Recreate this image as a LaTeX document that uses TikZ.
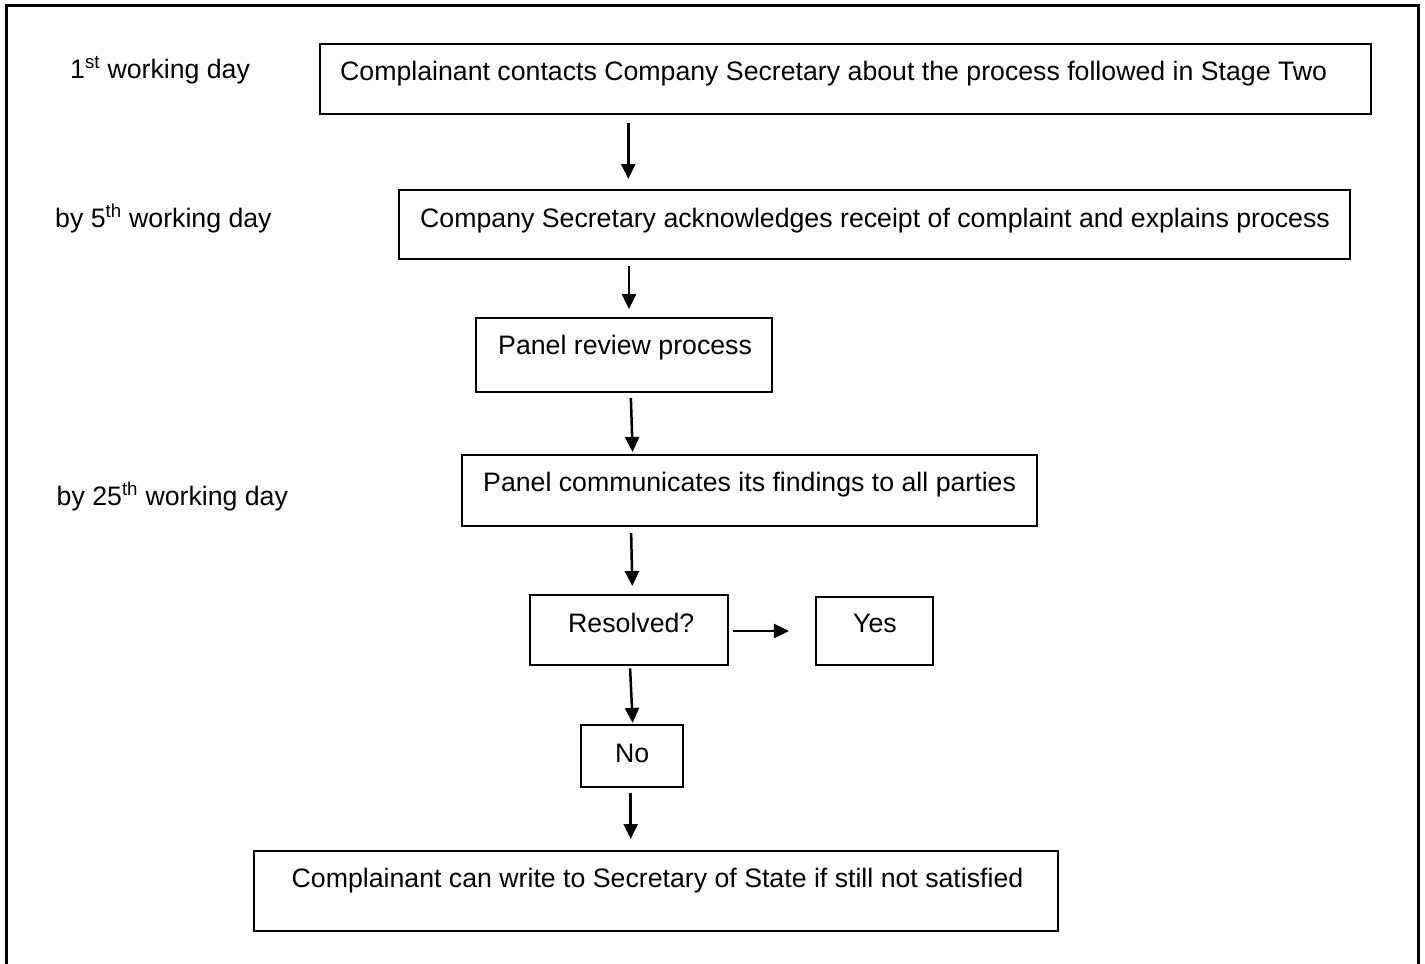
\documentclass[tikz,border=0pt]{standalone}
\usepackage{fontspec}
\setmainfont{Liberation Sans}
\usetikzlibrary{arrows.meta}
\begin{document}
\begin{tikzpicture}[x=1pt,y=-1pt,
  box/.style={draw, line width=2pt, inner sep=0pt},
  txt/.style={anchor=base west, inner sep=0pt, font=\fontsize{26.7}{30}\selectfont},
  arr/.style={line width=2.5pt, -{Triangle[length=15pt,width=14pt]}}]
\useasboundingbox (0,0) rectangle (1425,964);
\draw[line width=3pt] (6.5,975) -- (6.5,5.5) -- (1418.5,5.5) -- (1418.5,975);

% boxes
\node[box, minimum width=1051pt, minimum height=70.6pt] (b1) at (845.5,79) {};
\node[box, minimum width=951pt, minimum height=69pt] (b2) at (874.5,224.5) {};
\node[box, minimum width=296pt, minimum height=74pt] (b3) at (624,355) {};
\node[box, minimum width=575pt, minimum height=71pt] (b4) at (749.5,490.5) {};
\node[box, minimum width=198pt, minimum height=70pt] (res) at (629,630) {};
\node[box, minimum width=116.7pt, minimum height=68.3pt] (yes) at (874.3,630.8) {};
\node[box, minimum width=102pt, minimum height=61.7pt] (no) at (631.7,755.8) {};
\node[box, minimum width=804.3pt, minimum height=80pt] (fin) at (656.2,890.7) {};

% box texts
\node[txt] (t1) at (340,80) {Complainant contacts Company Secretary about the process followed in Stage Two};
\node[txt] (t2) at (420,227) {Company Secretary acknowledges receipt of complaint and explains process};
\node[txt] (t3) at (498,354) {Panel review process};
\node[txt] (t4) at (483,491) {Panel communicates its findings to all parties};
\node[txt] (tres) at (568,632) {Resolved?};
\node[txt] (tyes) at (853,632) {Yes};
\node[txt] (tno) at (615,762) {No};
\node[txt] (tfin) at (291.5,887) {Complainant can write to Secretary of State if still not satisfied};

% side labels
\node[txt] (l1) at (70,78) {1\textsuperscript{st} working day};
\node[txt] (l2) at (55,227) {by 5\textsuperscript{th} working day};
\node[txt] (l3) at (56.5,505) {by 25\textsuperscript{th} working day};

% arrow x positions
\coordinate (x1) at (628.3,0);
\coordinate (x2) at (629,0);
\coordinate (x3a) at (630.7,0);
\coordinate (x3b) at (632.7,0);
\coordinate (x4a) at (631,0);
\coordinate (x4b) at (632.5,0);
\coordinate (yy) at (0,631);
\coordinate (x6a) at (630,0);
\coordinate (x6b) at (632.7,0);
\coordinate (x7) at (630.7,0);

\draw[arr, shorten <=8pt, shorten >=10pt] (b1.south -| x1) -- (b2.north -| x1);
\draw[arr, shorten <=6pt, shorten >=8pt] (b2.south -| x2) -- (b3.north -| x2);
\draw[arr, shorten <=5pt, shorten >=2pt] (b3.south -| x3a) -- (b4.north -| x3b);
\draw[arr, shorten <=6pt, shorten >=8pt] (b4.south -| x4a) -- (res.north -| x4b);
\draw[arr, shorten <=4.4pt, shorten >=26pt] (res.east |- yy) -- (yes.west |- yy);
\draw[arr, shorten <=2.3pt, shorten >=1pt] (res.south -| x6a) -- (no.north -| x6b);
\draw[arr, shorten <=5pt, shorten >=10.7pt] (no.south -| x7) -- (fin.north -| x7);
\end{tikzpicture}
\end{document}
